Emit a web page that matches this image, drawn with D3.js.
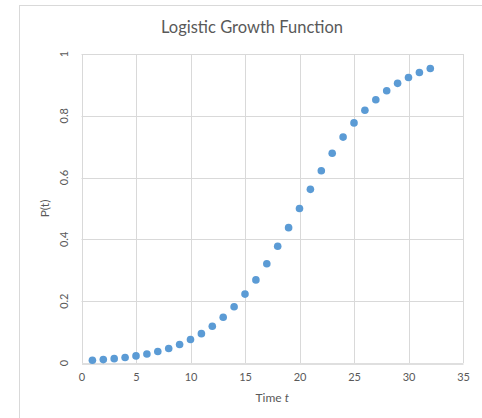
<!DOCTYPE html>
<html>
<head>
<meta charset="utf-8">
<script src="https://cdn.jsdelivr.net/npm/d3@7"></script>
<style>
    body { margin: 0; background: #fff; }
    svg text { font-family: Lato, "Liberation Sans", sans-serif; fill: #595959; }
</style>
</head>
<body>
<svg id="chart" width="482" height="418"></svg>
<script>
// time steps t
let times = [1, 2, 3, 4, 5, 6, 7, 8, 9, 10, 11, 12, 13, 14, 15, 16,
             17, 18, 19, 20, 21, 22, 23, 24, 25, 26, 27, 28, 29, 30, 31, 32];
// P(t)
let pValues = [0.009, 0.011, 0.014, 0.018, 0.023, 0.029, 0.037, 0.047, 0.060, 0.076, 0.095, 0.119,
               0.148, 0.182, 0.223, 0.269, 0.321, 0.378, 0.438, 0.500, 0.562, 0.622, 0.679, 0.731,
               0.777, 0.818, 0.852, 0.881, 0.905, 0.924, 0.940, 0.953];
// tick labels
let xTicks = [0, 5, 10, 15, 20, 25, 30, 35];
let yTicks = [0, 0.2, 0.4, 0.6, 0.8, 1];
let yTickLabels = ['0', '0.2', '0.4', '0.6', '0.8', '1'];

function drawChart(){
    let svg = d3.select('#chart');

    let left = 81.5, right = 463, top = 54, bottom = 363;

    let x = d3.scaleLinear().domain([0, 35]).range([left, right]);
    let y = d3.scaleLinear().domain([0, 1]).range([bottom, top]);

    // outer chart border (runs off the right and bottom edges)
    svg.append('rect')
        .attr('x', 19.5).attr('y', 5.5)
        .attr('width', 600).attr('height', 600)
        .attr('fill', 'none')
        .attr('stroke', '#d9d9d9');

    // title
    svg.append('text')
        .attr('x', 252).attr('y', 33)
        .attr('text-anchor', 'middle')
        .style('font-size', '16.5px')
        .text('Logistic Growth Function');

    // vertical gridlines
    svg.append('g').selectAll('line')
        .data(xTicks).enter()
        .append('line')
        .attr('x1', d => Math.round(x(d)) + 0.5).attr('x2', d => Math.round(x(d)) + 0.5)
        .attr('y1', top).attr('y2', bottom)
        .attr('stroke', '#d9d9d9');

    // horizontal gridlines
    svg.append('g').selectAll('line')
        .data(yTicks.filter(d => d > 0)).enter()
        .append('line')
        .attr('x1', left).attr('x2', right)
        .attr('y1', d => Math.round(y(d)) + 0.5).attr('y2', d => Math.round(y(d)) + 0.5)
        .attr('stroke', '#d9d9d9');

    // x axis
    let xAxis = svg.append('g')
        .attr('transform', 'translate(0,' + (Math.round(bottom) + 0.5) + ')')
        .call(d3.axisBottom(x).tickValues(xTicks).tickSize(0).tickPadding(10));
    xAxis.select('.domain').attr('stroke', '#bfbfbf');
    xAxis.selectAll('text').style('font-size', '11px').attr('fill', '#595959');

    // y axis labels, rotated
    svg.append('g').selectAll('text')
        .data(yTicks).enter()
        .append('text')
        .attr('transform', (d, i) => 'translate(68,' + y(d) + ') rotate(-90)')
        .attr('text-anchor', 'middle')
        .style('font-size', '11px')
        .text((d, i) => yTickLabels[i]);

    // axis titles
    let xTitle = svg.append('text')
        .attr('x', (left + right) / 2).attr('y', 402)
        .attr('text-anchor', 'middle')
        .style('font-size', '12px');
    xTitle.append('tspan').text('Time ');
    xTitle.append('tspan').style('font-style', 'italic').text('t');

    svg.append('text')
        .attr('transform', 'translate(49,' + (y(0.5)) + ') rotate(-90)')
        .attr('text-anchor', 'middle')
        .style('font-size', '12px')
        .text('P(t)');

    // points
    svg.append('g').selectAll('circle')
        .data(times).enter()
        .append('circle')
        .attr('cx', d => x(d))
        .attr('cy', (d, i) => y(pValues[i]))
        .attr('r', 3.8)
        .attr('fill', '#5b9bd5');
}

drawChart();
</script>
</body>
</html>
